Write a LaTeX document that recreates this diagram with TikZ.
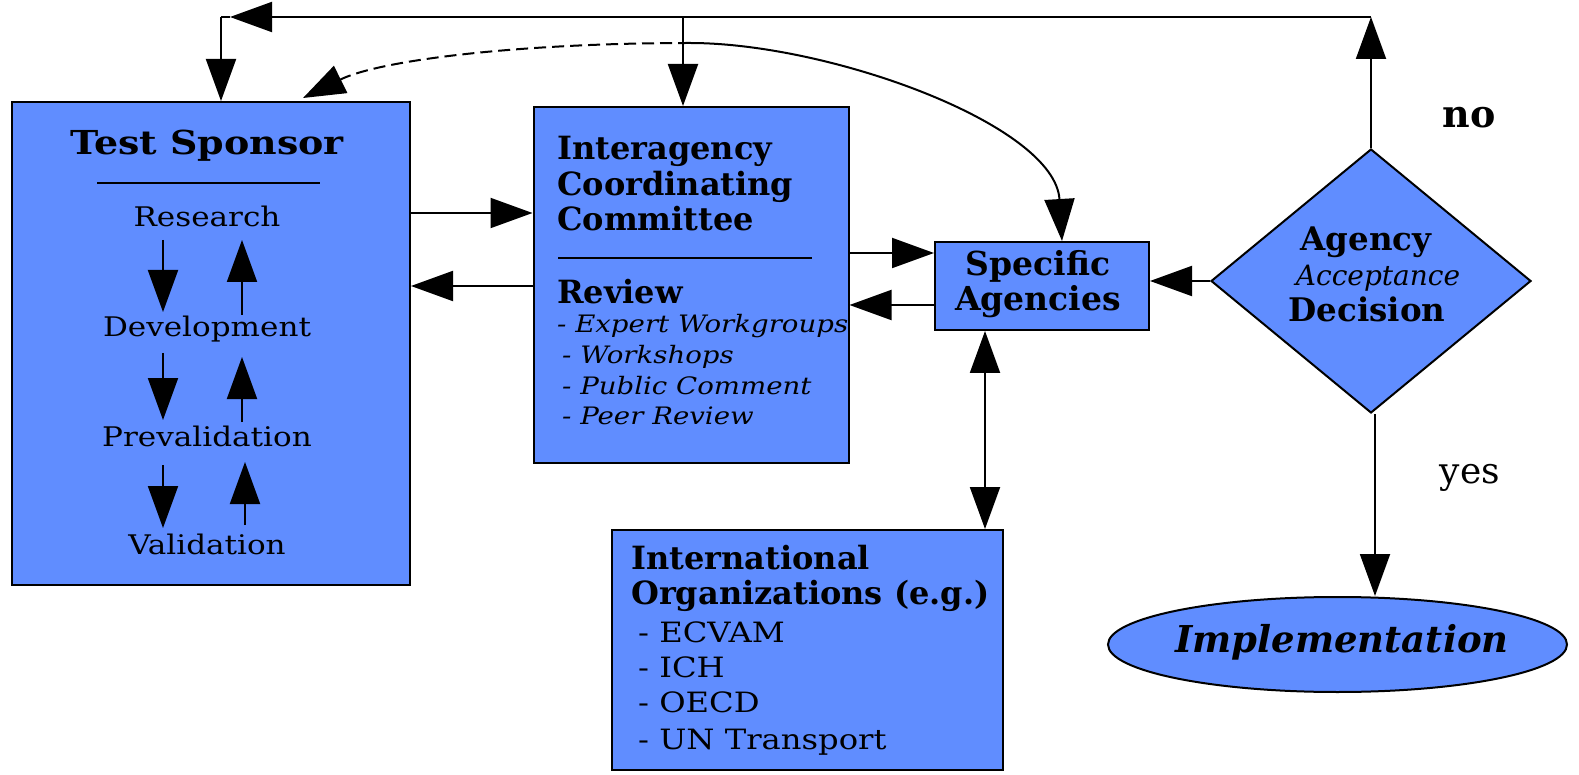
\documentclass[tikz,border=0pt]{standalone}
\usepackage{fontspec}
\setmainfont{DejaVu Serif}
\newfontfamily\widefont[FakeStretch=1.15]{DejaVu Serif}
\usetikzlibrary{shapes.geometric,arrows.meta}
\definecolor{boxblue}{RGB}{96,141,255}
\tikzset{
  box/.style={draw=black,fill=boxblue,line width=2pt,inner sep=0pt},
  conn/.style={line width=2pt,-{Triangle[length=42pt,width=30pt]}},
  biconn/.style={line width=2pt,{Triangle[length=42pt,width=30pt]}-{Triangle[length=42pt,width=30pt]}},
  plain/.style={line width=2pt},
  hd/.style={font=\fontsize{32}{36}\selectfont\bfseries,inner sep=0pt,anchor=base},
  hdl/.style={hd,anchor=base west},
  tx/.style={font=\widefont\fontsize{27}{30}\selectfont,inner sep=0pt,anchor=base},
  txl/.style={font=\widefont\fontsize{28}{30}\selectfont,inner sep=0pt,anchor=base west},
  it/.style={font=\widefont\fontsize{24}{26}\selectfont\itshape,inner sep=0pt,anchor=base west},
}
\begin{document}
\begin{tikzpicture}[x=1pt,y=-1pt]
\useasboundingbox (0,0) rectangle (1579,775);
% boxes
\node[box,minimum width=398pt,minimum height=483pt] (ts) at (211,343.5) {};
\node[box,minimum width=315pt,minimum height=356pt] (icc) at (691,285) {};
\node[box,minimum width=214pt,minimum height=88pt] (sa) at (1042,286) {};
\node[box,minimum width=391pt,minimum height=240pt] (io) at (807.5,650) {};
\node[box,diamond,minimum width=320pt,minimum height=264pt] (dec) at (1371,281) {};
\node[box,ellipse,minimum width=459pt,minimum height=95pt] (imp) at (1337.5,644.5) {};
% Test Sponsor content
\node[font=\widefont\fontsize{33}{36}\selectfont\bfseries,inner sep=0pt,anchor=base] (tst) at (207,155) {Test Sponsor};
\coordinate (tsl1) at (97,183);
\coordinate (tsl2) at (320,183);
\draw[plain] (tsl1) -- (tsl2);
\node[tx] (res) at (207,227) {Research};
\node[tx] (dev) at (207,337) {Development};
\node[tx] (pre) at (207,446) {Prevalidation};
\node[tx] (val) at (207,554) {Validation};
\draw[conn] (163,240) -- (163,312);
\draw[conn] (242,315) -- (242,240);
\draw[conn] (163,353) -- (163,420);
\draw[conn] (242,422) -- (242,357);
\draw[conn] (163,465) -- (163,528);
\draw[conn] (245,525) -- (245,462);
% ICC content
\node[hdl] (icc1) at (557,160) {Interagency};
\node[hdl] (icc2) at (557,196) {Coordinating};
\node[hdl] (icc3) at (557,231) {Committee};
\coordinate (iccl1) at (558,258);
\coordinate (iccl2) at (812,258);
\draw[plain] (iccl1) -- (iccl2);
\node[hdl] (rev) at (557,304) {Review};
\node[it] (r1) at (557,333) {- Expert Workgroups};
\node[it] (r2) at (562,363) {- Workshops};
\node[it] (r3) at (562,394) {- Public Comment};
\node[it] (r4) at (562,424) {- Peer Review};
% Specific agencies
\node[hd,font=\fontsize{33}{36}\selectfont\bfseries] (sa1) at (1038,276) {Specific};
\node[hd,font=\fontsize{33}{36}\selectfont\bfseries] (sa2) at (1038,311) {Agencies};
% Decision
\node[hd,font=\fontsize{32.5}{36}\selectfont\bfseries] (d1) at (1366,251) {Agency};
\node[font=\fontsize{28}{30}\selectfont\itshape,inner sep=0pt,anchor=base] (d2) at (1378,286) {Acceptance};
\node[hd,font=\fontsize{32.5}{36}\selectfont\bfseries] (d3) at (1367,322) {Decision};
% International
\node[hdl] (io1) at (631,569) {International};
\node[hdl] (io2) at (631,604) {Organizations (e.g.)};
\node[txl] (io3) at (638,642) {- ECVAM};
\node[txl] (io4) at (638,677) {- ICH};
\node[txl] (io5) at (638,712) {- OECD};
\node[txl] (io6) at (638,749) {- UN Transport};
% Implementation
\node[font=\fontsize{37}{40}\selectfont\bfseries\itshape,inner sep=0pt] (impt) at (1342,642) {Implementation};
% labels
\node[font=\fontsize{38}{40}\selectfont\bfseries,inner sep=0pt,anchor=base] (no) at (1469,128) {no};
\node[font=\fontsize{36}{40}\selectfont,inner sep=0pt,anchor=base] (yes) at (1470,483) {yes};
% connectors
\coordinate (y17) at (0,17);
\coordinate (tr) at (dec.north |- y17);
\coordinate (tl) at (221,17);
\coordinate (tla) at (230,17);
\coordinate (tm) at (683,17);
\draw[conn] (dec.north) -- (tr);
\draw[conn] (tr) -- (tla);
\draw[plain] (tla) -- (tl);
\draw[conn] (tl) -- (tl |- ts.north);
\draw[conn] (tm) -- (tm |- icc.north);
\coordinate (apex) at (690,43);
\coordinate (tsend) at (303,98);
\draw[line width=2pt,dash pattern=on 12pt off 6pt,-{Triangle[length=42pt,width=30pt]}] (apex) .. controls (520,43) and (380,60) .. (tsend);
\draw[line width=2pt,-{Triangle[length=42pt,width=30pt]}] (apex) .. controls (830,43) and (1055,125) .. ([xshift=20pt]sa.north);
\coordinate (y213) at (0,213);
\coordinate (y286) at (0,286);
\coordinate (y253) at (0,253);
\coordinate (y305) at (0,305);
\coordinate (x985) at (985,0);
\coordinate (x1375) at (1375,0);
\draw[conn] (ts.east |- y213) -- (icc.west |- y213);
\draw[conn] (icc.west |- y286) -- (ts.east |- y286);
\draw[conn] (icc.east |- y253) -- (sa.west |- y253);
\draw[conn] (sa.west |- y305) -- (icc.east |- y305);
\draw[conn] (dec.west) -- (sa.east |- dec.west);
\draw[biconn] (x985 |- sa.south) -- (x985 |- io.north);
\draw[conn] (x1375 |- dec.south) -- (x1375 |- imp.north);
\end{tikzpicture}
\end{document}
